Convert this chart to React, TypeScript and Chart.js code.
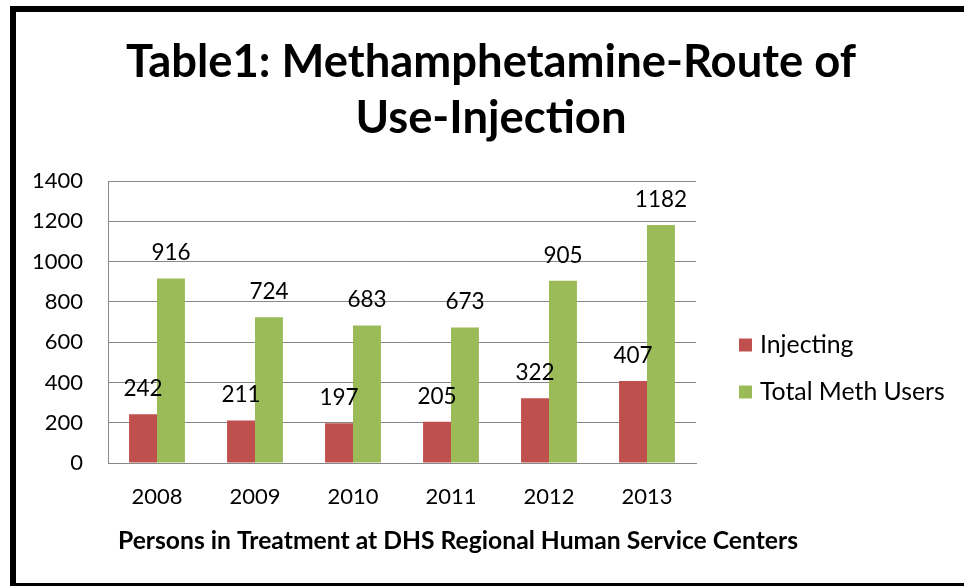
import React, { useEffect, useRef } from "react";
import { Chart, registerables } from "chart.js";

Chart.register(...registerables);

const years = ["2008", "2009", "2010", "2011", "2012", "2013"];
const injecting = [242, 211, 197, 205, 322, 407];
const totalMethUsers = [916, 724, 683, 673, 905, 1182];
const seriesNames = ["Injecting", "Total Meth Users"];
const seriesColors = ["#C0504D", "#9BBB59"];
const titleLines = ["Table1: Methamphetamine-Route of", "Use-Injection"];
const xAxisTitle = "Persons in Treatment at DHS Regional Human Service Centers";
const yMin = 0;
const yMax = 1400;
const yStep = 200;

const FONT = "Lato, 'Open Sans', sans-serif";
const GRID = "#888888";

const framePlugin = {
  id: "frame",
  beforeDraw(chart: any) {
    const { ctx, width, height } = chart;
    ctx.save();
    ctx.fillStyle = "#ffffff";
    ctx.fillRect(0, 0, width, height);
    ctx.fillStyle = "#000000";
    ctx.fillRect(10, 6, 6, height - 6);
    ctx.fillRect(10, 6, width - 10, 6);
    ctx.fillRect(10, height - 3, width - 10, 3);
    ctx.restore();
  },
};

const valueLabelPlugin = {
  id: "valueLabels",
  afterDatasetsDraw(chart: any) {
    const { ctx } = chart;
    ctx.save();
    ctx.font = `22.5px ${FONT}`;
    ctx.fillStyle = "#000000";
    ctx.textAlign = "center";
    ctx.textBaseline = "alphabetic";
    chart.data.datasets.forEach((ds: any, i: number) => {
      const meta = chart.getDatasetMeta(i);
      meta.data.forEach((el: any, j: number) => {
        ctx.fillText(String(ds.data[j]), el.x, el.y - 18);
      });
    });
    ctx.restore();
  },
};

const legendAndAxisTitlePlugin = {
  id: "legendAxisTitle",
  afterDraw(chart: any) {
    const { ctx, chartArea } = chart;
    ctx.save();
    // legend
    ctx.font = `24.8px ${FONT}`;
    ctx.textBaseline = "middle";
    ctx.textAlign = "left";
    chart.data.datasets.forEach((ds: any, i: number) => {
      const cy = chartArea.top + 164 + i * 47;
      const bx = chartArea.right + 43;
      ctx.fillStyle = ds.backgroundColor;
      ctx.fillRect(bx, cy - 6.5, 13, 13);
      ctx.fillStyle = "#000000";
      ctx.fillText(ds.label, bx + 21, cy);
    });
    // x axis title
    ctx.font = `bold 24.7px ${FONT}`;
    ctx.textAlign = "center";
    ctx.fillText(xAxisTitle, chartArea.left + 350, 541);
    ctx.restore();
  },
};

export default function App() {
  const canvasRef = useRef<HTMLCanvasElement | null>(null);

  useEffect(() => {
    document.body.style.margin = "0";
    const canvas = canvasRef.current;
    if (!canvas) return;
    const chart = new Chart(canvas, {
      type: "bar",
      data: {
        labels: years,
        datasets: [
          {
            label: seriesNames[0],
            data: injecting,
            backgroundColor: seriesColors[0],
            categoryPercentage: 0.57,
            barPercentage: 1,
          },
          {
            label: seriesNames[1],
            data: totalMethUsers,
            backgroundColor: seriesColors[1],
            categoryPercentage: 0.57,
            barPercentage: 1,
          },
        ],
      },
      options: {
        animation: false,
        responsive: false,
        devicePixelRatio: 1,
        layout: {
          padding: { left: 18, right: 0, top: 20, bottom: 0 },
        },
        plugins: {
          legend: { display: false },
          tooltip: { enabled: false },
          title: {
            display: true,
            text: titleLines,
            color: "#000000",
            font: { family: FONT, size: 45.4, weight: "bold", lineHeight: 56 / 45.4 },
            padding: { top: 14, bottom: 35 },
          },
        },
        scales: {
          x: {
            grid: { display: false, drawTicks: false },
            border: { display: true, color: GRID, width: 1 },
            ticks: {
              color: "#000000",
              font: { family: FONT, size: 22 },
              padding: 21,
            },
            afterFit: (s: any) => {
              s.height = 123;
            },
          },
          y: {
            min: yMin,
            max: yMax,
            ticks: {
              stepSize: yStep,
              color: "#000000",
              font: { family: FONT, size: 22 },
              padding: 25,
              callback: (v: any) => String(v),
            },
            grid: { color: GRID, drawTicks: false, lineWidth: 1 },
            border: { display: true, color: GRID, width: 1 },
            afterFit: (s: any) => {
              s.width = 90;
            },
          },
          legendSpace: {
            type: "linear",
            position: "right",
            display: true,
            grid: { display: false, drawTicks: false },
            border: { display: false },
            ticks: { display: false },
            afterFit: (s: any) => {
              s.width = 268;
            },
          },
        },
      },
      plugins: [framePlugin, valueLabelPlugin, legendAndAxisTitlePlugin],
    });
    return () => chart.destroy();
  }, []);

  return (
    <div style={{ position: "fixed", left: 0, top: 0, width: 964, height: 586 }}>
      <canvas ref={canvasRef} width={964} height={586} style={{ width: 964, height: 586, display: "block" }} />
    </div>
  );
}
